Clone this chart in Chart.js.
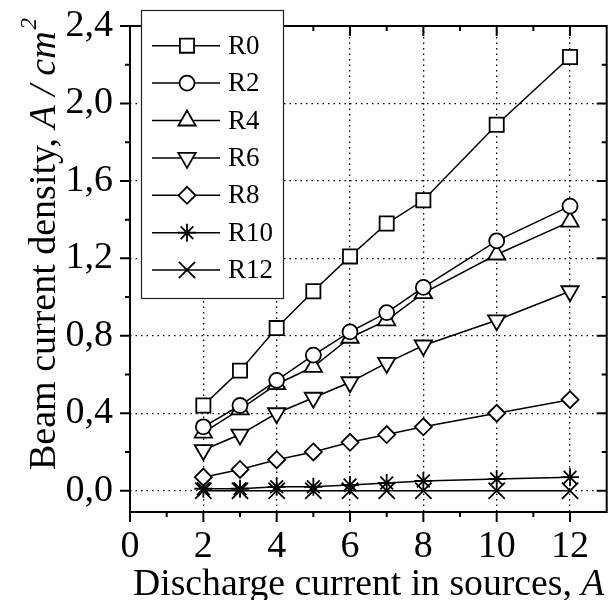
<!DOCTYPE html>
<html><head><meta charset="utf-8">
<script src="https://cdn.jsdelivr.net/npm/chart.js@4/dist/chart.umd.min.js"></script>
<style>
html,body{margin:0;padding:0;overflow:hidden;background:#fff;width:610px;height:600px}
#wrap{position:relative;width:620px;height:600px}
</style>
</head><body>
<div id="wrap"><canvas id="c" width="620" height="600"></canvas></div>
<script>
// ---- data ----
const currents = [2, 3, 4, 5, 6, 7, 8, 10, 12];
const seriesNames = ['R0', 'R2', 'R4', 'R6', 'R8', 'R10', 'R12'];
const R0  = [0.44, 0.62, 0.84, 1.03, 1.21, 1.38, 1.50, 1.89, 2.24];
const R2  = [0.33, 0.44, 0.57, 0.70, 0.82, 0.92, 1.05, 1.29, 1.47];
const R4  = [0.30, 0.42, 0.55, 0.64, 0.79, 0.88, 1.02, 1.22, 1.39];
const R6  = [0.21, 0.29, 0.40, 0.48, 0.56, 0.66, 0.75, 0.88, 1.03];
const R8  = [0.07, 0.11, 0.16, 0.20, 0.25, 0.29, 0.33, 0.40, 0.47];
const R10 = [0.01, 0.01, 0.02, 0.02, 0.03, 0.04, 0.05, 0.06, 0.07];
const R12 = [0.00, 0.00, 0.00, 0.00, 0.00, 0.00, 0.00, 0.00, 0.00];
const seriesValues = [R0, R2, R4, R6, R8, R10, R12];
const xTickValues = [0, 2, 4, 6, 8, 10, 12];
const yTickValues = [0.0, 0.4, 0.8, 1.2, 1.6, 2.0, 2.4];
const xTitle = ['Discharge current in sources, ', 'A'];
const yTitle = ['Beam current density, ', 'A / cm', '2'];

// ---- styles ----
const markerStyles = [
  {pointStyle: 'rect', radius: 10, rotation: 0},
  {pointStyle: 'circle', radius: 7.5, rotation: 0},
  {pointStyle: 'triangle', radius: 10, rotation: 0},
  {pointStyle: 'triangle', radius: 10, rotation: 180},
  {pointStyle: 'rectRot', radius: 8.5, rotation: 0},
  {pointStyle: 'star', radius: 9, rotation: 0},
  {pointStyle: 'crossRot', radius: 11.5, rotation: 0}
];
const FONT = '"Liberation Serif", "Times New Roman", serif';

const datasets = seriesNames.map((name, i) => ({
  label: name,
  data: currents.map((c, j) => ({x: c, y: seriesValues[i][j]})),
  borderColor: '#000',
  borderWidth: 1.5,
  pointStyle: markerStyles[i].pointStyle,
  pointRadius: markerStyles[i].radius,
  pointRotation: markerStyles[i].rotation,
  pointBackgroundColor: '#fff',
  pointBorderColor: '#000',
  pointBorderWidth: 1.8,
  fill: false,
  tension: 0
}));

function drawPointSafe(ctx, opts, x, y) {
  if (Chart.helpers && Chart.helpers.drawPoint) {
    Chart.helpers.drawPoint(ctx, opts, x, y);
  } else {
    ctx.beginPath(); ctx.arc(x, y, opts.radius, 0, Math.PI * 2); ctx.fill(); ctx.stroke();
  }
}

const framePlugin = {
  id: 'frame',
  afterDraw(chart) {
    const ctx = chart.ctx;
    const ca = chart.chartArea;
    const xs = chart.scales.x, ys = chart.scales.y;
    ctx.save();
    ctx.strokeStyle = '#000';
    ctx.lineWidth = 2;
    ctx.strokeRect(ca.left, ca.top, ca.right - ca.left, ca.bottom - ca.top);
    // ticks
    const major = 10, minor = 5;
    ctx.lineWidth = 2;
    ctx.beginPath();
    xTickValues.forEach((v) => {
      const px = xs.getPixelForValue(v);
      ctx.moveTo(px, ca.bottom); ctx.lineTo(px, ca.bottom + major);
      ctx.moveTo(px, ca.top); ctx.lineTo(px, ca.top + major);
      const m = v + 1;
      if (m < xs.max) {
        const pm = xs.getPixelForValue(m);
        ctx.moveTo(pm, ca.bottom); ctx.lineTo(pm, ca.bottom + minor);
        ctx.moveTo(pm, ca.top); ctx.lineTo(pm, ca.top + minor);
      }
    });
    yTickValues.forEach((v) => {
      const py = ys.getPixelForValue(v);
      ctx.moveTo(ca.left, py); ctx.lineTo(ca.left - major, py);
      ctx.moveTo(ca.right, py); ctx.lineTo(ca.right - major, py);
      const m = v + 0.2;
      if (m < ys.max) {
        const pm = ys.getPixelForValue(m);
        ctx.moveTo(ca.left, pm); ctx.lineTo(ca.left - minor, pm);
        ctx.moveTo(ca.right, pm); ctx.lineTo(ca.right - minor, pm);
      }
    });
    ctx.stroke();

    // axis titles
    ctx.fillStyle = '#000';
    ctx.textBaseline = 'alphabetic';
    ctx.textAlign = 'left';
    let x = 133;
    ctx.font = '37.7px ' + FONT;
    ctx.fillText(xTitle[0], x, 595);
    x += ctx.measureText(xTitle[0]).width;
    ctx.font = 'italic 37.7px ' + FONT;
    ctx.fillText(xTitle[1], x, 595);

    ctx.save();
    ctx.translate(55, 470);
    ctx.rotate(-Math.PI / 2);
    let u = 0;
    ctx.font = '38px ' + FONT;
    ctx.fillText(yTitle[0], u, 0);
    u += ctx.measureText(yTitle[0]).width;
    ctx.font = 'italic 38px ' + FONT;
    ctx.fillText(yTitle[1], u, 0);
    u += ctx.measureText(yTitle[1]).width + 2;
    ctx.font = 'italic 23px ' + FONT;
    ctx.fillText(yTitle[2], u, -19);
    ctx.restore();

    // legend
    const lx = 141, ly = 10, lw = 142, lh = 288;
    ctx.fillStyle = '#fff';
    ctx.fillRect(lx, ly, lw, lh);
    ctx.lineWidth = 1.2;
    ctx.strokeStyle = '#222';
    ctx.strokeRect(lx + 0.5, ly + 0.5, lw, lh);
    chart.data.datasets.forEach((ds, i) => {
      const ry = 45.7 + i * 37.4;
      ctx.strokeStyle = '#000';
      ctx.lineWidth = 1.5;
      ctx.beginPath();
      ctx.moveTo(152, ry); ctx.lineTo(220, ry);
      ctx.stroke();
      ctx.fillStyle = '#fff';
      ctx.lineWidth = 1.8;
      drawPointSafe(ctx, {pointStyle: ds.pointStyle, radius: ds.pointRadius, rotation: ds.pointRotation, borderWidth: 1.8}, 187, ry);
      ctx.fillStyle = '#000';
      ctx.font = '27px ' + FONT;
      ctx.textBaseline = 'middle';
      ctx.fillText(ds.label, 228, ry + 1);
      ctx.textBaseline = 'alphabetic';
    });
    ctx.restore();
  }
};

new Chart(document.getElementById('c'), {
  type: 'line',
  data: {datasets},
  options: {
    responsive: false,
    animation: false,
    devicePixelRatio: 1,
    layout: {padding: {top: 26, right: 6, left: 0, bottom: 0}},
    plugins: {legend: {display: false}, tooltip: {enabled: false}},
    scales: {
      x: {
        type: 'linear', min: 0, max: 13,
        afterFit(s) { s.height = 88; s.paddingLeft = 0; s.paddingRight = 0; },
        afterBuildTicks(s) { s.ticks = xTickValues.map(v => ({value: v})); },
        border: {display: false, dash: [1.5, 4]},
        grid: {drawTicks: false, color: '#000', lineWidth: 1.3},
        ticks: {padding: 12, color: '#000', font: {family: FONT, size: 38},
                callback: v => String(v)}
      },
      y: {
        type: 'linear', min: -0.11, max: 2.4,
        afterFit(s) { s.width = 130; s.paddingTop = 0; s.paddingBottom = 0; },
        afterBuildTicks(s) { s.ticks = yTickValues.map(v => ({value: v})); },
        border: {display: false, dash: [1.5, 4]},
        grid: {drawTicks: false, color: '#000', lineWidth: 1.3},
        ticks: {padding: 17, color: '#000', font: {family: FONT, size: 38},
                callback: v => v.toFixed(1).replace('.', ',')}
      }
    }
  },
  plugins: [framePlugin]
});
</script>
</body></html>
